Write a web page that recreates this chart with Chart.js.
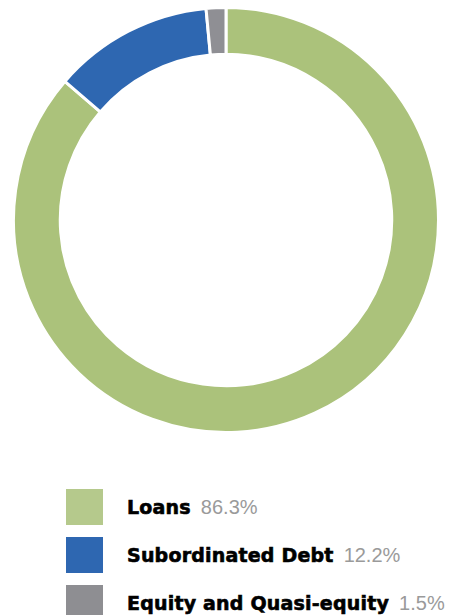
<!DOCTYPE html>
<html><head><meta charset="utf-8">
<script src="https://cdn.jsdelivr.net/npm/chart.js@4"></script>
<style>
html,body{margin:0;padding:0;background:#fff;width:456px;height:615px;overflow:hidden;}
#wrap{position:absolute;left:12px;top:6px;width:428px;height:428px;}
#legend{position:absolute;left:66px;top:489px;}
.item{position:relative;height:48px;}
.sw{position:absolute;left:0;top:0;width:37px;height:36px;}
.lab{position:absolute;left:61px;top:7px;white-space:nowrap;line-height:22px;}
.name{font-family:"DejaVu Sans",sans-serif;font-size:19px;font-weight:bold;color:#000;-webkit-text-stroke:0.6px #000;letter-spacing:0.2px;}
.pct{font-family:"Liberation Sans",Arial,sans-serif;font-size:20px;color:#9a9a9a;margin-left:10px;font-weight:normal;}
</style></head>
<body>
<div id="wrap"><canvas id="c"></canvas></div>
<div id="legend"></div>
<script>
const categories = ["Loans", "Subordinated Debt", "Equity and Quasi-equity"];
const shares = [86.3, 12.2, 1.5];
const ringColors = ["#abc27b", "#2e67b1", "#8f8f94"];
const legendColors = ["#b5c98c", "#2e67b1", "#8e8e92"];

new Chart(document.getElementById('c'), {
  type: 'doughnut',
  data: {
    labels: categories,
    datasets: [{
      data: shares,
      backgroundColor: ringColors,
      borderColor: '#ffffff',
      borderWidth: 3,
      hoverOffset: 0
    }]
  },
  options: {
    responsive: true,
    maintainAspectRatio: false,
    animation: false,
    cutout: '78%',
    plugins: { legend: { display: false }, tooltip: { enabled: false } }
  }
});

const lg = document.getElementById('legend');
categories.forEach((c, i) => {
  const d = document.createElement('div');
  d.className = 'item';
  d.innerHTML = '<div class="sw" style="background:' + legendColors[i] + '"></div>' +
    '<div class="lab"><span class="name">' + c + '</span><span class="pct">' + shares[i].toFixed(1) + '%</span></div>';
  lg.appendChild(d);
});
</script>
</body></html>
